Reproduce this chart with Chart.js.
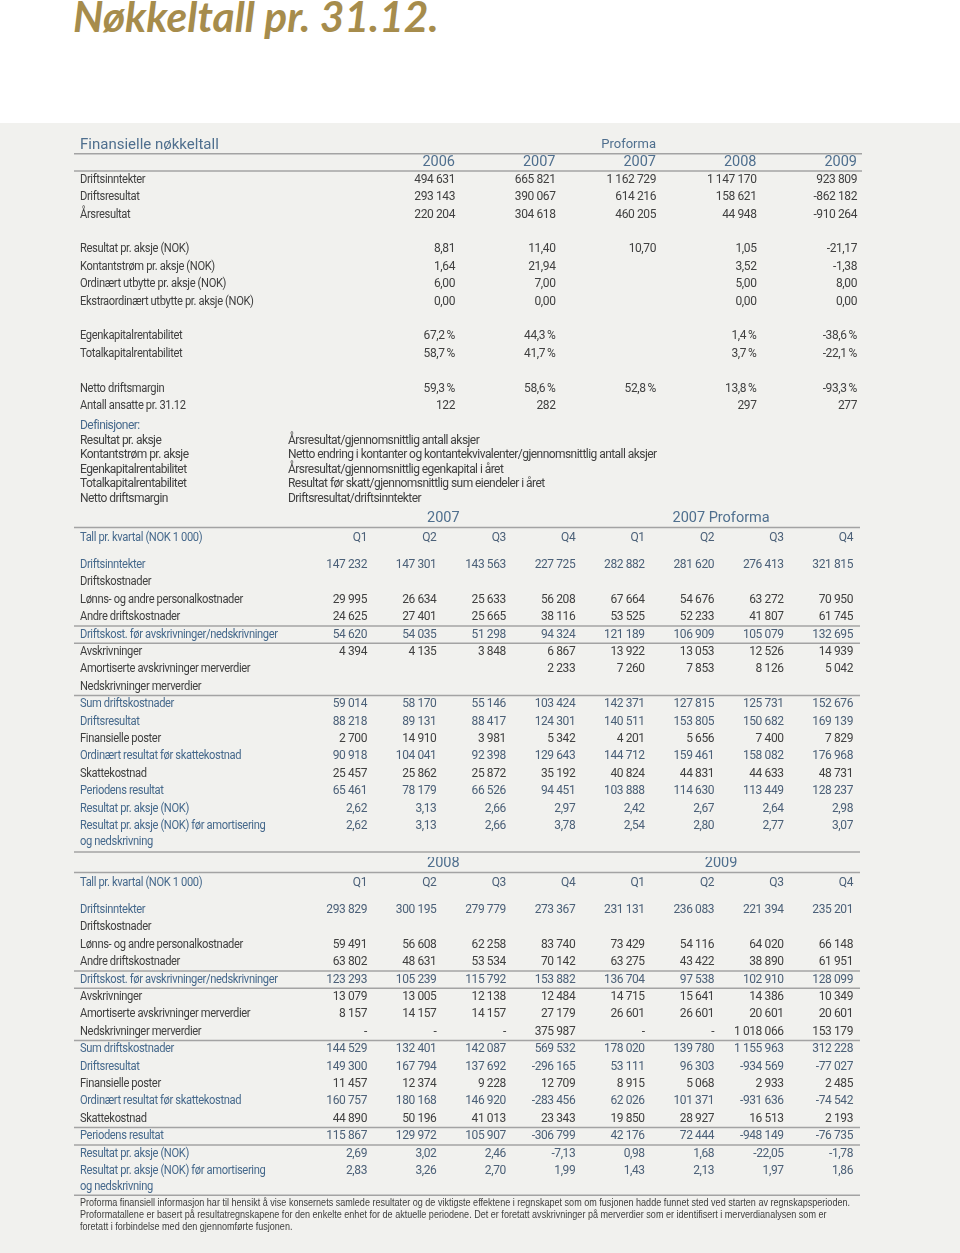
<!DOCTYPE html>
<html lang="no">
<head>
<meta charset="utf-8">
<title>Nøkkeltall pr. 31.12.</title>
<script src="https://cdn.jsdelivr.net/npm/chart.js@4.4.1/dist/chart.umd.min.js"></script>
<style>
html,body{margin:0;padding:0;background:#fff;}
body{width:960px;height:1253px;position:relative;overflow:hidden;font-family:Roboto,"Liberation Sans",sans-serif;}
#title{position:absolute;left:73px;top:-5px;font-family:Lato,"Open Sans",sans-serif;font-style:italic;font-weight:700;font-size:42.5px;line-height:42px;color:#a68c4c;white-space:nowrap;}
#panel{position:absolute;left:0;top:123px;width:960px;height:1130px;background:#f1f1ee;}
canvas{position:absolute;left:0;}
#defs{position:absolute;left:80px;top:418px;font-size:12px;line-height:14.5px;letter-spacing:-0.55px;color:#404040;white-space:nowrap;}
#defs .h{color:#46698c;}
#defs .t{display:inline-block;width:208px;}
#foot{position:absolute;left:80px;top:1197px;font-family:"Liberation Sans",Arial,sans-serif;font-size:10px;line-height:12px;color:#404040;white-space:nowrap;transform-origin:0 0;}
#foot span{display:inline-block;}
</style>
</head>
<body>
<div id="title">Nøkkeltall pr. 31.12.</div>
<div id="panel"></div>
<canvas id="kf" width="960" height="295" style="top:127px;width:960px;height:295px"></canvas>
<div id="defs"></div>
<canvas id="q1" width="960" height="355" style="top:502px;width:960px;height:355px"></canvas>
<canvas id="q2" width="960" height="345" style="top:857px;width:960px;height:345px"></canvas>
<div id="foot"></div>
<script>
// ================= DATA =================
// Finansielle nøkkeltall
const kfTitle = 'Finansielle nøkkeltall';
const kfProformaLabel = 'Proforma';
const kfYears = ['2006', '2007', '2007', '2008', '2009'];
const kfDriftsinntekter = [494631, 665821, 1162729, 1147170, 923809];
const kfDriftsresultat = [293143, 390067, 614216, 158621, -862182];
const kfArsresultat = [220204, 304618, 460205, 44948, -910264];
const kfResultatPrAksje = [8.81, 11.40, 10.70, 1.05, -21.17];
const kfKontantstrom = [1.64, 21.94, null, 3.52, -1.38];
const kfOrdUtbytte = [6.00, 7.00, null, 5.00, 8.00];
const kfEkstraUtbytte = [0.00, 0.00, null, 0.00, 0.00];
const kfEgenkapRent = [67.2, 44.3, null, 1.4, -38.6];
const kfTotalkapRent = [58.7, 41.7, null, 3.7, -22.1];
const kfNettoMargin = [59.3, 58.6, 52.8, 13.8, -93.3];
const kfAnsatte = [122, 282, null, 297, 277];

// Definisjoner
const defHeading = 'Definisjoner:';
const defTerms = ['Resultat pr. aksje', 'Kontantstrøm pr. aksje', 'Egenkapitalrentabilitet', 'Totalkapitalrentabilitet', 'Netto driftsmargin'];
const defTexts = ['Årsresultat/gjennomsnittlig antall aksjer',
  'Netto endring i kontanter og kontantekvivalenter/gjennomsnittlig antall aksjer',
  'Årsresultat/gjennomsnittlig egenkapital i året',
  'Resultat før skatt/gjennomsnittlig sum eiendeler i året',
  'Driftsresultat/driftsinntekter'];

// Kvartalstall – felles
const qHeaderLabel = 'Tall pr. kvartal (NOK 1 000)';
const quarterLabels = ['Q1', 'Q2', 'Q3', 'Q4', 'Q1', 'Q2', 'Q3', 'Q4'];
const qRowLabels = ['Driftsinntekter', 'Driftskostnader', 'Lønns- og andre personalkostnader', 'Andre driftskostnader',
  'Driftskost. før avskrivninger/nedskrivninger', 'Avskrivninger', 'Amortiserte avskrivninger merverdier',
  'Nedskrivninger merverdier', 'Sum driftskostnader', 'Driftsresultat', 'Finansielle poster',
  'Ordinært resultat før skattekostnad', 'Skattekostnad', 'Periodens resultat', 'Resultat pr. aksje (NOK)',
  'Resultat pr. aksje (NOK) før amortisering'];
const qLastLabelLine2 = 'og nedskrivning';

// 2007 / 2007 Proforma
const q07Groups = ['2007', '2007 Proforma'];
const q07Driftsinntekter = [147232, 147301, 143563, 227725, 282882, 281620, 276413, 321815];
const q07Driftskostnader = [null, null, null, null, null, null, null, null];
const q07Lonn = [29995, 26634, 25633, 56208, 67664, 54676, 63272, 70950];
const q07Andre = [24625, 27401, 25665, 38116, 53525, 52233, 41807, 61745];
const q07DriftskostFor = [54620, 54035, 51298, 94324, 121189, 106909, 105079, 132695];
const q07Avskr = [4394, 4135, 3848, 6867, 13922, 13053, 12526, 14939];
const q07Amort = [null, null, null, 2233, 7260, 7853, 8126, 5042];
const q07Nedskr = [null, null, null, null, null, null, null, null];
const q07SumKost = [59014, 58170, 55146, 103424, 142371, 127815, 125731, 152676];
const q07Driftsres = [88218, 89131, 88417, 124301, 140511, 153805, 150682, 169139];
const q07Finans = [2700, 14910, 3981, 5342, 4201, 5656, 7400, 7829];
const q07OrdRes = [90918, 104041, 92398, 129643, 144712, 159461, 158082, 176968];
const q07Skatt = [25457, 25862, 25872, 35192, 40824, 44831, 44633, 48731];
const q07Periodens = [65461, 78179, 66526, 94451, 103888, 114630, 113449, 128237];
const q07Eps = [2.62, 3.13, 2.66, 2.97, 2.42, 2.67, 2.64, 2.98];
const q07EpsFor = [2.62, 3.13, 2.66, 3.78, 2.54, 2.80, 2.77, 3.07];

// 2008 / 2009
const q09Groups = ['2008', '2009'];
const q09Driftsinntekter = [293829, 300195, 279779, 273367, 231131, 236083, 221394, 235201];
const q09Driftskostnader = [null, null, null, null, null, null, null, null];
const q09Lonn = [59491, 56608, 62258, 83740, 73429, 54116, 64020, 66148];
const q09Andre = [63802, 48631, 53534, 70142, 63275, 43422, 38890, 61951];
const q09DriftskostFor = [123293, 105239, 115792, 153882, 136704, 97538, 102910, 128099];
const q09Avskr = [13079, 13005, 12138, 12484, 14715, 15641, 14386, 10349];
const q09Amort = [8157, 14157, 14157, 27179, 26601, 26601, 20601, 20601];
const q09Nedskr = [0, 0, 0, 375987, 0, 0, 1018066, 153179];
const q09SumKost = [144529, 132401, 142087, 569532, 178020, 139780, 1155963, 312228];
const q09Driftsres = [149300, 167794, 137692, -296165, 53111, 96303, -934569, -77027];
const q09Finans = [11457, 12374, 9228, 12709, 8915, 5068, 2933, 2485];
const q09OrdRes = [160757, 180168, 146920, -283456, 62026, 101371, -931636, -74542];
const q09Skatt = [44890, 50196, 41013, 23343, 19850, 28927, 16513, 2193];
const q09Periodens = [115867, 129972, 105907, -306799, 42176, 72444, -948149, -76735];
const q09Eps = [2.69, 3.02, 2.46, -7.13, 0.98, 1.68, -22.05, -1.78];
const q09EpsFor = [2.83, 3.26, 2.70, 1.99, 1.43, 2.13, 1.97, 1.86];

const footLines = [
  'Proforma finansiell informasjon har til hensikt å vise konsernets samlede resultater og de viktigste effektene i regnskapet som om fusjonen hadde funnet sted ved starten av regnskapsperioden.',
  'Proformatallene er basert på resultatregnskapene for den enkelte enhet for de aktuelle periodene. Det er foretatt avskrivninger på merverdier som er identifisert i merverdianalysen som er',
  'foretatt i forbindelse med den gjennomførte fusjonen.'
];

// ================= STYLE =================
const C_TEXT = '#404040';
const C_BLUE = '#46698c';
const C_VALBLUE = '#4b6078';
const C_HEAD = '#4f6f8e';
const C_LINE = '#a3a3a3';
const FAM = 'Roboto, "Liberation Sans", sans-serif';
const F_DATA = '12px ' + FAM;
const LS_DATA = '-0.4px';
const LABEL_SX = 0.93;     // horizontal condensing of row labels
const LABEL_X = 80, LINE_X1 = 74;
const FOOT_W = 770;         // width of first footnote line

// ================= FORMAT =================
function grp(n) { return n.toString().replace(/\B(?=(\d{3})+(?!\d))/g, ' '); }
const FMT = {
  int: v => v === 0 ? '-' : (v < 0 ? '-' : '') + grp(Math.abs(v)),
  num: v => (v < 0 ? '-' : '') + grp(Math.abs(v)),
  dec: v => (v < 0 ? '-' : '') + Math.abs(v).toFixed(2).replace('.', ','),
  pct: v => (v < 0 ? '-' : '') + Math.abs(v).toFixed(1).replace('.', ',') + '\u2009%'
};

function txt(ctx, s, x, y, align, font, color, ls, sx) {
  ctx.save();
  ctx.font = font; ctx.fillStyle = color; ctx.textAlign = align; ctx.textBaseline = 'middle';
  if ('letterSpacing' in ctx) ctx.letterSpacing = ls || '0px';
  ctx.translate(x, y);
  if (sx) ctx.scale(sx, 1);
  ctx.fillText(s, 0, 0);
  ctx.restore();
}
function hline(ctx, y, x1, x2) {
  ctx.beginPath(); ctx.strokeStyle = C_LINE; ctx.lineWidth = 1.5;
  ctx.moveTo(x1, y); ctx.lineTo(x2, y); ctx.stroke();
}

// ================= TABLE CHART =================
function tableChart(id, spec) {
  const datasets = spec.rows.map((row, ri) => ({
    label: row.label || '',
    data: (row.values || []).map((v, ci) => ({x: ci, y: ri, v: v})).filter(p => p.v !== null && p.v !== undefined),
    pointRadius: 0, pointHoverRadius: 0, borderWidth: 0
  }));
  return new Chart(document.getElementById(id), {
    type: 'scatter',
    data: {datasets},
    options: {
      responsive: false, animation: false, events: [],
      layout: {padding: spec.padding},
      plugins: {legend: {display: false}, tooltip: {enabled: false}},
      scales: {
        x: {type: 'linear', display: false, bounds: 'data', min: 0, max: spec.columns.length - 1},
        y: {type: 'linear', display: false, bounds: 'data', reverse: true, min: spec.yMin, max: spec.rows.length - 1}
      }
    },
    plugins: [{
      id: 'tableText',
      afterDraw(chart) {
        const ctx = chart.ctx, xs = chart.scales.x, ys = chart.scales.y;
        const X = v => xs.getPixelForValue(v), Y = v => ys.getPixelForValue(v);
        ctx.save();
        spec.lines.forEach(r => hline(ctx, Y(r), LINE_X1, spec.lineX2));
        spec.header(ctx, X, Y);
        spec.rows.forEach((row, ri) => {
          const c = row.blue ? C_BLUE : C_TEXT;
          if (row.label) txt(ctx, row.label, LABEL_X, Y(ri), 'left', F_DATA, c, LS_DATA, LABEL_SX);
          if (row.line2) txt(ctx, row.line2, LABEL_X, Y(ri + 0.9), 'left', F_DATA, c, LS_DATA, LABEL_SX);
        });
        chart.data.datasets.forEach((ds, di) => {
          const row = spec.rows[di];
          chart.getDatasetMeta(di).data.forEach((el, i) => {
            txt(ctx, FMT[row.fmt](ds.data[i].v), el.x, el.y, 'right', F_DATA, row.blue ? C_VALBLUE : C_TEXT, LS_DATA);
          });
        });
        ctx.restore();
      }
    }]
  });
}

// ---- Finansielle nøkkeltall ----
tableChart('kf', {
  columns: kfYears,
  yMin: -2,
  padding: {left: 455, right: 103, top: 18, bottom: 16},
  lineX2: 862,
  lines: [-1.5, -0.5],
  rows: [
    {label: 'Driftsinntekter', values: kfDriftsinntekter, fmt: 'num'},
    {label: 'Driftsresultat', values: kfDriftsresultat, fmt: 'num'},
    {label: 'Årsresultat', values: kfArsresultat, fmt: 'num'},
    {},
    {label: 'Resultat pr. aksje (NOK)', values: kfResultatPrAksje, fmt: 'dec'},
    {label: 'Kontantstrøm pr. aksje (NOK)', values: kfKontantstrom, fmt: 'dec'},
    {label: 'Ordinært utbytte pr. aksje (NOK)', values: kfOrdUtbytte, fmt: 'dec'},
    {label: 'Ekstraordinært utbytte pr. aksje (NOK)', values: kfEkstraUtbytte, fmt: 'dec'},
    {},
    {label: 'Egenkapitalrentabilitet', values: kfEgenkapRent, fmt: 'pct'},
    {label: 'Totalkapitalrentabilitet', values: kfTotalkapRent, fmt: 'pct'},
    {},
    {label: 'Netto driftsmargin', values: kfNettoMargin, fmt: 'pct'},
    {label: 'Antall ansatte pr. 31.12', values: kfAnsatte, fmt: 'num'}
  ],
  header(ctx, X, Y) {
    txt(ctx, kfTitle, LABEL_X, Y(-2), 'left', '15px ' + FAM, C_HEAD, '0px');
    txt(ctx, kfProformaLabel, X(2), Y(-2), 'right', '13px ' + FAM, C_HEAD, '0px');
    kfYears.forEach((y, i) => txt(ctx, y, X(i), Y(-1), 'right', '14.5px ' + FAM, C_HEAD, '0px'));
  }
});

// ---- Quarterly tables ----
function quarterRows(a) {
  const fm = ['int', 'int', 'int', 'int', 'int', 'int', 'int', 'int', 'int', 'int', 'int', 'int', 'int', 'int', 'dec', 'dec'];
  const blue = [0, 4, 8, 9, 11, 13, 14, 15];
  return qRowLabels.map((l, i) => ({label: l, values: a[i], fmt: fm[i], blue: blue.includes(i), line2: i === 15 ? qLastLabelLine2 : null}));
}
function quarterHeader(groups) {
  return function (ctx, X, Y) {
    txt(ctx, groups[0], X(1.1), Y(-2.67), 'center', '14.5px ' + FAM, C_HEAD, '0px');
    txt(ctx, groups[1], X(5.1), Y(-2.67), 'center', '14.5px ' + FAM, C_HEAD, '0px');
    txt(ctx, qHeaderLabel, LABEL_X, Y(-1.55), 'left', F_DATA, C_BLUE, LS_DATA, LABEL_SX);
    quarterLabels.forEach((q, i) => txt(ctx, q, X(i), Y(-1.55), 'right', F_DATA, C_VALBLUE, LS_DATA));
  };
}

tableChart('q1', {
  columns: quarterLabels,
  yMin: 0,
  padding: {left: 367, right: 107, top: 63, bottom: 31},
  lineX2: 860,
  lines: [-2.15, 3.5, 4.5, 7.5, 16.5],
  rows: quarterRows([q07Driftsinntekter, q07Driftskostnader, q07Lonn, q07Andre, q07DriftskostFor, q07Avskr, q07Amort,
    q07Nedskr, q07SumKost, q07Driftsres, q07Finans, q07OrdRes, q07Skatt, q07Periodens, q07Eps, q07EpsFor]),
  header: quarterHeader(q07Groups)
});

tableChart('q2', {
  columns: quarterLabels,
  yMin: 0,
  padding: {left: 367, right: 107, top: 53, bottom: 31},
  lineX2: 860,
  lines: [-2.15, 3.5, 4.5, 7.5, 12.5, 13.5, 16.4],
  rows: quarterRows([q09Driftsinntekter, q09Driftskostnader, q09Lonn, q09Andre, q09DriftskostFor, q09Avskr, q09Amort,
    q09Nedskr, q09SumKost, q09Driftsres, q09Finans, q09OrdRes, q09Skatt, q09Periodens, q09Eps, q09EpsFor]),
  header: quarterHeader(q09Groups)
});

// ---- HTML text blocks ----
const defs = document.getElementById('defs');
const h = document.createElement('div'); h.className = 'h'; h.textContent = defHeading; defs.appendChild(h);
defTerms.forEach((t, i) => {
  const d = document.createElement('div');
  const s1 = document.createElement('span'); s1.className = 't'; s1.textContent = t;
  const s2 = document.createElement('span'); s2.textContent = defTexts[i];
  d.appendChild(s1); d.appendChild(s2); defs.appendChild(d);
});
const foot = document.getElementById('foot');
let firstSpan = null;
footLines.forEach((l, i) => {
  const d = document.createElement('div');
  const s = document.createElement('span'); s.textContent = l;
  d.appendChild(s); foot.appendChild(d);
  if (i === 0) firstSpan = s;
});
const fw = firstSpan.getBoundingClientRect().width;
if (fw > 0) foot.style.transform = 'scaleX(' + (FOOT_W / fw).toFixed(4) + ')';
</script>
</body>
</html>
